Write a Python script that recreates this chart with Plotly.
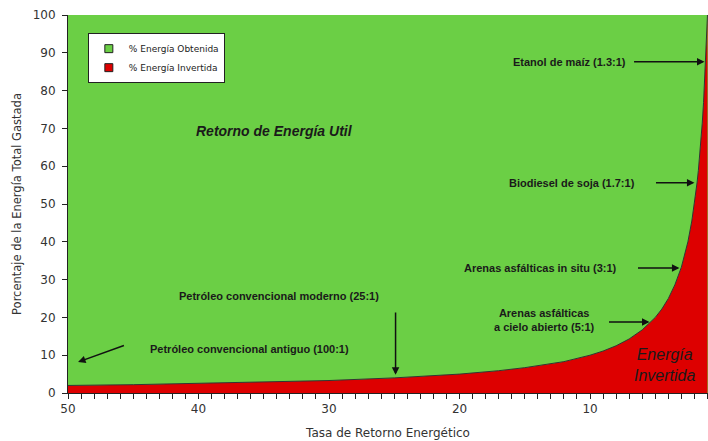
import plotly.graph_objects as go

# EROI values (x) and % of energy invested (red area)
eroi = [50, 45, 40, 35, 30, 25, 20, 17, 15, 12, 10, 9, 8, 7, 6, 5, 4.5, 4, 3.5, 3, 2.7, 2.5, 2.2, 2.0, 1.8, 1.7, 1.6, 1.5, 1.4, 1.3, 1.2, 1.1, 1.0]
invested = [2.0, 2.2, 2.5, 2.9, 3.3, 4.0, 5.0, 5.9, 6.7, 8.3, 10.0, 11.1, 12.5, 14.3, 16.7, 20.0, 22.2, 25.0, 28.6, 33.3, 37.0, 40.0, 45.5, 50.0, 55.6, 58.8, 62.5, 66.7, 71.4, 76.9, 83.3, 90.9, 100.0]
obtained = [100 - v for v in invested]

x_ticks = [50, 40, 30, 20, 10]
y_ticks = [0, 10, 20, 30, 40, 50, 60, 70, 80, 90, 100]

GREEN = "#6BCF45"
RED = "#DD0000"
TXT = "#1a1a1a"
LAB = "Liberation Sans, Arial, sans-serif"

fig = go.Figure()
fig.add_trace(go.Scatter(x=eroi, y=invested, stackgroup="a", mode="lines",
                         line=dict(color="#333333", width=1), fillcolor=RED,
                         showlegend=False, hoverinfo="skip"))
fig.add_trace(go.Scatter(x=eroi, y=obtained, stackgroup="a", mode="lines",
                         line=dict(color=GREEN, width=0), fillcolor=GREEN,
                         showlegend=False, hoverinfo="skip"))
# legend entries
fig.add_trace(go.Scatter(x=[None], y=[None], mode="markers", name="% Energía Obtenida",
                         marker=dict(symbol="square", size=8, color=GREEN, line=dict(color="#222", width=1))))
fig.add_trace(go.Scatter(x=[None], y=[None], mode="markers", name="% Energía Invertida",
                         marker=dict(symbol="square", size=8, color=RED, line=dict(color="#222", width=1))))

# text labels (data coordinates)
labels = [
    ("Etanol de maíz (1.3:1)", 11.57, 87.6),
    ("Biodiesel de soja (1.7:1)", 11.41, 55.6),
    ("Arenas asfálticas in situ (3:1)", 13.79, 33.1),
    ("Arenas asfálticas<br>a cielo abierto (5:1)", 13.48, 19.4),
    ("Petróleo convencional moderno (25:1)", 33.85, 25.7),
    ("Petróleo convencional antiguo (100:1)", 36.07, 11.6),
]
for t, x, y in labels:
    fig.add_annotation(x=x, y=y, xref="x", yref="y", text="<b>" + t + "</b>", showarrow=False,
                       font=dict(family=LAB, size=11, color=TXT), align="center")

# arrows: (tail x, tail y, tip x, tip y)
arrows = [
    (6.74, 87.6, 1.23, 87.6),
    (5.06, 55.6, 2.0, 55.6),
    (6.44, 33.1, 3.15, 33.1),
    (8.66, 18.8, 5.44, 18.8),
    (24.9, 21.7, 24.9, 4.8),
    (45.6, 12.7, 49.23, 8.2),
]
for ax, ay, x, y in arrows:
    fig.add_annotation(x=x, y=y, ax=ax, ay=ay, xref="x", yref="y", axref="x", ayref="y",
                       text="", showarrow=True, arrowhead=2, arrowsize=1, arrowwidth=1.5,
                       arrowcolor="#111")

fig.add_annotation(x=34.15, y=69.3, xref="x", yref="y", text="<b><i>Retorno de Energía Util</i></b>",
                   showarrow=False, font=dict(family=LAB, size=14, color=TXT))
fig.add_annotation(x=4.29, y=7.4, xref="x", yref="y", text="<i>Energía<br>Invertida</i>",
                   showarrow=False, font=dict(family=LAB, size=16, color=TXT), align="center")

fig.update_layout(
    width=708, height=441,
    margin=dict(l=68, r=0, t=15, b=48, autoexpand=False),
    paper_bgcolor="white", plot_bgcolor=GREEN,
    font=dict(family="DejaVu Sans, sans-serif", size=12, color="#333"),
    legend=dict(x=0.031, y=0.952, xanchor="left", yanchor="top", traceorder="normal",
                bgcolor="white", bordercolor="#222", borderwidth=1, itemwidth=30,
                font=dict(family="DejaVu Sans, sans-serif", size=9, color="#222"),
                tracegroupgap=0),
    xaxis=dict(range=[50, 0.96], tickvals=x_ticks, ticks="outside", ticklen=5, tickcolor="#222",
               showgrid=False, zeroline=False, showline=True, linecolor="#222", linewidth=1,
               automargin=False,
               minor=dict(dtick=1, tick0=0, ticks="outside", ticklen=5, tickcolor="#222", showgrid=False),
               title=dict(text="Tasa de Retorno Energético", font=dict(size=12, color="#333"), standoff=13),
               tickfont=dict(size=12, color="#333")),
    yaxis=dict(range=[0, 100], tickvals=y_ticks, ticks="outside", ticklen=5, tickcolor="#222",
               showgrid=False, zeroline=False, showline=True, linecolor="#222", linewidth=1,
               automargin=False, ticklabelstandoff=4,
               title=dict(text="Porcentaje de la Energía Total Gastada", font=dict(size=11.5, color="#333"), standoff=8),
               tickfont=dict(size=12, color="#333")),
)

fig.write_html("out.html", config={"displayModeBar": False},
               post_script="document.body.style.margin='0';document.body.style.overflow='hidden';")
